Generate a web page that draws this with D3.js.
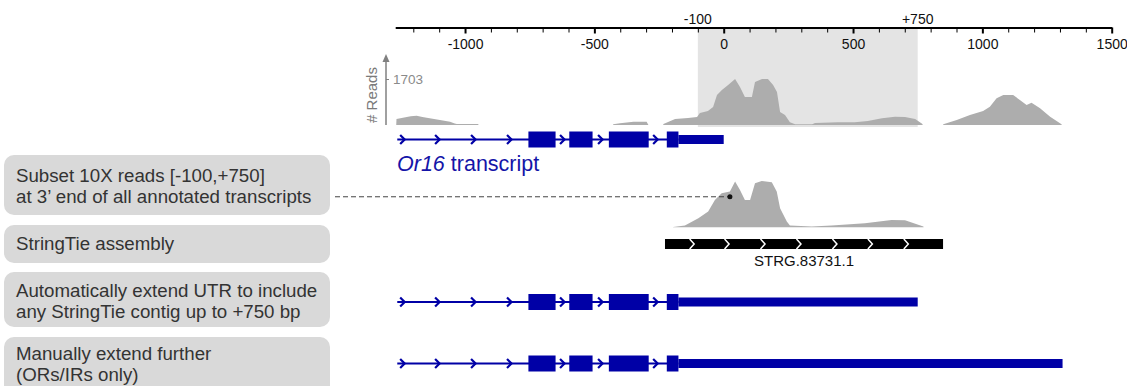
<!DOCTYPE html>
<html lang="en">
<head>
<meta charset="utf-8">
<title>Or16 3' UTR extension</title>
<script src="https://d3js.org/d3.v7.min.js"></script>
<style>
  body { margin: 0; background: #fff; }
  svg { display: block; font-family: "Liberation Sans", Arial, sans-serif; }
</style>
</head>
<body>
<script>
// 1. sizes / colours
const svgW = 1127, svgH = 386;
const blue = "#0000a6";
const covGrey = "#adadad";
const shadeGrey = "#e4e4e4";
const boxGrey = "#d9d9d9";

// 2. data
const axisMajor = [-1000, -500, 0, 500, 1000, 1500];
const axisMinor = [-1200, -1100, -900, -800, -700, -600, -400, -300, -200, -100,
                   100, 200, 300, 400, 600, 700, 800, 900, 1100, 1200, 1300, 1400];
const windowMarks = [-100, 750];
const windowLabels = ["-100", "+750"];
const readsMax = 1703;

// coverage of all reads: [bp from 3' end, reads]
const coverageAll = [
  [-1266, 0], [-1265, 222], [-1240, 270], [-1210, 320], [-1187, 344], [-1165, 300], [-1148, 270],
  [-1097, 185], [-1058, 122], [-1040, 60], [-1032, 37], [-949, 37], [-948, 0],
  [-428, 0], [-427, 26], [-401, 62], [-349, 122], [-298, 122], [-291, 0],
  [-234, 0], [-233, 40], [-188, 222], [-138, 259], [-103, 296], [-92, 444], [-61, 518],
  [-41, 666], [-26, 1110], [-7, 1296], [17, 1481], [44, 1703], [63, 1407], [82, 1036],
  [109, 1036], [121, 1592], [148, 1700], [171, 1700], [191, 1481], [206, 1222], [218, 481],
  [237, 370], [256, 100], [276, 26], [342, 26], [353, 74], [442, 100], [507, 100],
  [557, 148], [612, 248], [662, 307], [701, 296], [740, 222], [767, 48], [770, 0],
  [848, 0], [849, 26], [901, 185], [952, 370], [1003, 518], [1029, 678], [1055, 987],
  [1081, 1110], [1119, 1110], [1145, 925], [1171, 740], [1190, 826], [1223, 617],
  [1262, 307], [1306, 26], [1307, 0]
];

// reads in the [-100,+750] window of annotated 3' ends
const coverageSubset = [
  [-196, 0], [-195, 10], [-150, 63], [-98, 333], [-60, 581], [-34, 1010], [-8, 1258],
  [24, 1321], [44, 1691], [63, 1380], [82, 1010], [102, 1010], [121, 1628], [147, 1713],
  [186, 1665], [205, 1321], [218, 703], [244, 211], [256, 63], [340, 26], [417, 63],
  [546, 148], [649, 270], [701, 259], [772, 26], [773, 0]
];
const subsetPoint = [24, 1130];

// Or16 gene model (bp)
const txStart = -1262;
const cdsEnd = -175;
const exons = [[-755, -650], [-597, -507], [-444, -290], [-220, -175]];
const intronArrows = [-1243, -1108, -969, -830, -625, -478, -265];
const utrEnds = [0, 750, 1310];   // annotated, auto-extended, manually extended

// StringTie contig
const stringtie = [-227, 848];
const stringtieArrows = [-122, 13, 152, 291, 430, 567, 706];
const stringtieName = "STRG.83731.1";

const steps = [
  ["Subset 10X reads [-100,+750]", "at 3\u2019 end of all annotated transcripts"],
  ["StringTie assembly"],
  ["Automatically extend UTR to include", "any StringTie contig up to +750 bp"],
  ["Manually extend further", "(ORs/IRs only)"]
];

// 3. layout
const axisY = 27.5;
const txRowsY = [139.5, 302, 363.5];
const stringtieY = 244;
const boxes = [
  {y: 155, h: 60, ty: 182},
  {y: 225, h: 38, ty: 250},
  {y: 272, h: 55, ty: 297},
  {y: 337, h: 60, ty: 360}
];

// 4. scales
const x = d3.scaleLinear().domain([-1270, 1500]).range([395.2, 1111.7]);
const yTop = d3.scaleLinear().domain([0, readsMax]).range([125, 79]);
const ySub = d3.scaleLinear().domain([0, readsMax]).range([227.3, 181.3]);

const svg = d3.select("body").append("svg")
  .attr("width", svgW)
  .attr("height", svgH);

// shaded window
svg.append("rect")
  .attr("x", x(windowMarks[0]))
  .attr("y", axisY + 1)
  .attr("width", x(windowMarks[1]) - x(windowMarks[0]))
  .attr("height", yTop(0) + 1 - axisY)
  .attr("fill", shadeGrey);

// top axis
const minorAxis = d3.axisBottom(x).tickValues(axisMinor).tickSize(5).tickFormat("").tickSizeOuter(0);
const gMinor = svg.append("g").attr("transform", "translate(0," + axisY + ")").call(minorAxis);
gMinor.select(".domain").attr("stroke", "#000").attr("stroke-width", 2);
gMinor.selectAll(".tick line").attr("stroke", "#000").attr("stroke-width", 1);

const majorAxis = d3.axisBottom(x).tickValues(axisMajor).tickSize(6).tickPadding(6)
  .tickFormat(d => String(d)).tickSizeOuter(0);
const gMajor = svg.append("g").attr("transform", "translate(0," + axisY + ")").call(majorAxis);
gMajor.select(".domain").remove();
gMajor.selectAll(".tick line").attr("stroke", "#000").attr("stroke-width", 2);
gMajor.selectAll(".tick text").attr("font-size", 14).attr("fill", "#111")
  .attr("font-family", "Liberation Sans, Arial, sans-serif");

svg.selectAll("text.window")
  .data(windowMarks)
  .enter()
  .append("text")
  .attr("class", "window")
  .attr("x", d => x(d))
  .attr("y", 24)
  .attr("text-anchor", "middle")
  .attr("font-size", 14)
  .attr("fill", "#111")
  .text((d, i) => windowLabels[i]);

// coverage tracks
const areaTop = d3.area().x(d => x(d[0])).y0(yTop(0)).y1(d => yTop(d[1]));
svg.append("path").datum(coverageAll).attr("d", areaTop).attr("fill", covGrey);

const areaSub = d3.area().x(d => x(d[0])).y0(ySub(0)).y1(d => ySub(d[1]));
svg.append("path").datum(coverageSubset).attr("d", areaSub).attr("fill", covGrey);

// reads axis with arrow
const readsX = 386;
svg.append("line")
  .attr("x1", readsX).attr("x2", readsX)
  .attr("y1", yTop(0)).attr("y2", 60)
  .attr("stroke", "#808080").attr("stroke-width", 1.5);
svg.append("path")
  .attr("d", `M${readsX - 3.5},62 L${readsX},54 L${readsX + 3.5},62 Z`)
  .attr("fill", "#808080");
const readsAxis = d3.axisRight(yTop).tickValues([readsMax]).tickSize(3).tickPadding(4)
  .tickFormat(d => String(d));
const gReads = svg.append("g").attr("transform", "translate(" + readsX + ",0)").call(readsAxis);
gReads.select(".domain").remove();
gReads.selectAll(".tick line").attr("stroke", "#808080");
gReads.selectAll(".tick text").attr("font-size", 13.5).attr("fill", "#8a8a8a")
  .attr("font-family", "Liberation Sans, Arial, sans-serif");
svg.append("text")
  .attr("transform", "translate(377,95) rotate(-90)")
  .attr("text-anchor", "middle")
  .attr("font-size", 15)
  .attr("fill", "#7a7a7a")
  .text("# Reads");

// transcript models
function drawTranscript(y, utrEnd) {
  const g = svg.append("g");
  g.append("line")
    .attr("x1", x(txStart)).attr("x2", x(cdsEnd))
    .attr("y1", y).attr("y2", y)
    .attr("stroke", blue).attr("stroke-width", 2);
  g.selectAll("path.arrow")
    .data(intronArrows)
    .enter()
    .append("path")
    .attr("class", "arrow")
    .attr("d", d => `M${x(d) - 2},${y - 4.5} L${x(d) + 2.5},${y} L${x(d) - 2},${y + 4.5}`)
    .attr("fill", "none").attr("stroke", blue).attr("stroke-width", 2.2);
  g.selectAll("rect.exon")
    .data(exons)
    .enter()
    .append("rect")
    .attr("class", "exon")
    .attr("x", d => x(d[0]))
    .attr("width", d => x(d[1]) - x(d[0]))
    .attr("y", y - 8).attr("height", 16)
    .attr("fill", blue);
  g.append("rect")
    .attr("x", x(cdsEnd)).attr("width", x(utrEnd) - x(cdsEnd))
    .attr("y", y - 4.5).attr("height", 9)
    .attr("fill", blue);
}
utrEnds.forEach((u, i) => drawTranscript(txRowsY[i], u));

const label = svg.append("text")
  .attr("x", 397).attr("y", 171)
  .attr("font-size", 21.5)
  .attr("fill", "#1414a8");
label.append("tspan").attr("font-style", "italic").text("Or16");
label.append("tspan").text(" transcript");

// subset marker
svg.append("line")
  .attr("x1", 335).attr("x2", x(subsetPoint[0]))
  .attr("y1", ySub(subsetPoint[1])).attr("y2", ySub(subsetPoint[1]))
  .attr("stroke", "#444").attr("stroke-width", 1)
  .attr("stroke-dasharray", "5,3");
svg.append("circle")
  .attr("cx", x(subsetPoint[0])).attr("cy", ySub(subsetPoint[1]))
  .attr("r", 2.5).attr("fill", "#111");

// StringTie contig
svg.append("rect")
  .attr("x", x(stringtie[0])).attr("width", x(stringtie[1]) - x(stringtie[0]))
  .attr("y", stringtieY - 5).attr("height", 10)
  .attr("fill", "#000");
svg.selectAll("path.strg")
  .data(stringtieArrows)
  .enter()
  .append("path")
  .attr("class", "strg")
  .attr("d", d => `M${x(d) - 2.5},${stringtieY - 5} L${x(d) + 2},${stringtieY} L${x(d) - 2.5},${stringtieY + 5}`)
  .attr("fill", "none").attr("stroke", "#fff").attr("stroke-width", 1.5);
svg.append("text")
  .attr("x", (x(stringtie[0]) + x(stringtie[1])) / 2)
  .attr("y", 266)
  .attr("text-anchor", "middle")
  .attr("font-size", 15)
  .attr("fill", "#111")
  .text(stringtieName);

// step boxes
const gBox = svg.selectAll("g.step")
  .data(steps)
  .enter()
  .append("g")
  .attr("class", "step");
gBox.append("rect")
  .attr("x", 4).attr("width", 326)
  .attr("y", (d, i) => boxes[i].y)
  .attr("height", (d, i) => boxes[i].h)
  .attr("rx", 10).attr("ry", 10)
  .attr("fill", boxGrey);
gBox.each(function(d, i) {
  const t = d3.select(this).append("text")
    .attr("font-size", 18.7)
    .attr("fill", "#333");
  d.forEach((line, j) => {
    t.append("tspan").attr("x", 16).attr("y", boxes[i].ty + j * 21).text(line);
  });
});
</script>
</body>
</html>
